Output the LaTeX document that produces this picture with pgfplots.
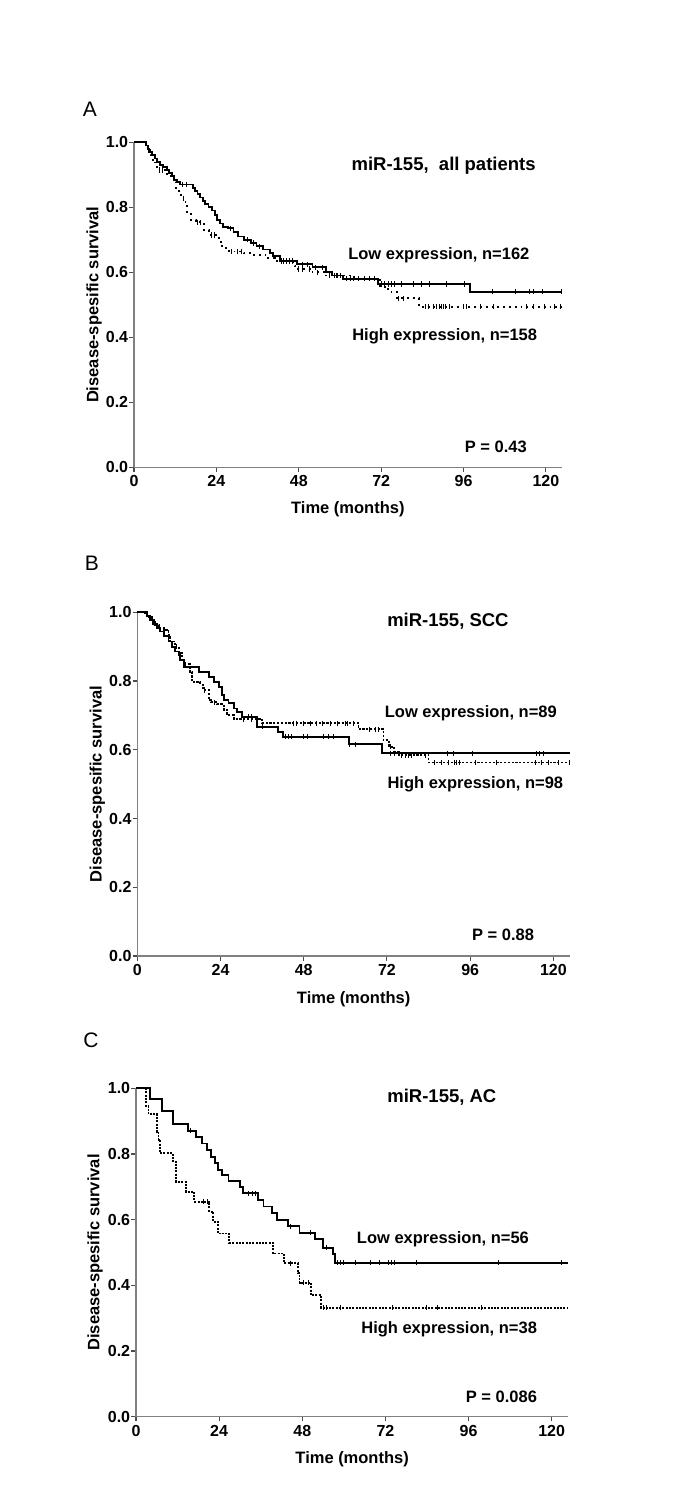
\documentclass[border=0pt]{standalone}
\usepackage{fontspec}
\setmainfont{Liberation Sans}
\usepackage{pgfplots}
\pgfplotsset{compat=1.18}

\pgfplotsset{
  km/.style={
    scale only axis, anchor=south west,
    axis x line=bottom, axis y line=left,
    axis line style={-, draw=gray, line width=1.4pt},
    every outer x axis line/.append style={-},
    every outer y axis line/.append style={-},
    xmin=0, ymin=0, ymax=1,
    xtick={0,24,48,72,96,120},
    ytick={0,0.2,0.4,0.6,0.8,1},
    yticklabel style={/pgf/number format/fixed, /pgf/number format/fixed zerofill, /pgf/number format/precision=1, inner xsep=1pt},
    tick align=outside,
    major tick length=4.7pt,
    tick style={draw=gray!60!black, line width=1.1pt},
    tick label style={font=\fontsize{16}{19}\selectfont\bfseries},
    /pgf/number format/assume math mode=true,
    label style={font=\fontsize{16.5}{19}\selectfont\bfseries},
    xlabel={Time (months)},
    ylabel={Disease-spesific survival},
    clip=false,
  },
  low/.style={black, line width=1.9pt, const plot, mark=none},
  cens/.style={only marks, mark=|, mark size=2.6pt, mark options={line width=0.9pt, black}},
}
\tikzset{
  ttl/.style={anchor=base, font=\fontsize{18.5}{22}\selectfont\bfseries},
  txt/.style={anchor=base, font=\fontsize{16.5}{19}\selectfont\bfseries},
  pan/.style={anchor=base, font=\fontsize{21}{24}\selectfont},
}

\begin{document}
\begin{tikzpicture}[x=1pt,y=1pt]
\path[use as bounding box] (0,0) rectangle (685,1505);

% ---------------- Panel A ----------------
\begin{axis}[km, at={(134pt,1037.7pt)}, width=427.7pt, height=325pt, xmax=124.6,
  xlabel style={at={(axis description cs:0.5,-0.1415)}, anchor=base},
  ylabel style={at={(axis description cs:-0.0835,0.5)}, anchor=base}]
\addplot[low] coordinates {
(0,1.0) (3.4,0.99) (4.0,0.98) (4.5,0.97) (5.3,0.96) (6.0,0.95) (6.8,0.94) (7.5,0.93)
(8.5,0.925) (9.5,0.915) (10.2,0.905) (11.0,0.895) (11.7,0.885) (12.5,0.877) (13.5,0.870)
(17.3,0.86) (17.9,0.85) (18.5,0.84) (19.3,0.83) (20.0,0.82) (20.8,0.81) (21.7,0.80)
(22.8,0.79) (23.5,0.775) (24.2,0.76) (25.0,0.75) (26.0,0.74) (27.5,0.735) (29.0,0.725)
(30.4,0.71) (32.0,0.70) (34.0,0.69) (35.7,0.68) (37.7,0.67) (39.6,0.66) (40.5,0.65)
(42.5,0.635) (47.4,0.625) (52.0,0.615) (56.0,0.60) (57.6,0.59) (61.0,0.58) (71.0,0.564)
(98.0,0.540) (124.6,0.540)};
\addplot[cens] coordinates {
(14.2,0.870) (15.2,0.870) (28.0,0.735) (33,0.70) (34.8,0.69) (36.5,0.68) (43.5,0.635)
(44.3,0.635) (45.2,0.635) (46.3,0.635) (49,0.625) (50.5,0.625) (53,0.615) (55,0.615)
(58.5,0.59) (59.3,0.59) (60.2,0.59) (62,0.58) (63,0.58) (64,0.58) (65.5,0.58) (67,0.58)
(68.5,0.58) (70,0.58) (72,0.564) (73.1,0.564) (74,0.564) (75.1,0.564) (76,0.564)
(78,0.564) (81.4,0.564) (83.8,0.564) (86.2,0.564) (91.1,0.564) (96.4,0.564)
(104.5,0.54) (111,0.54) (115.1,0.54) (116.3,0.54) (119,0.54) (124.6,0.54)};
\addplot[low, dash pattern=on 1.8pt off 4pt] coordinates {
(0,1.0) (3.5,0.99) (4.2,0.975) (4.8,0.96) (5.4,0.945) (6.2,0.925) (7.0,0.915) (9.7,0.90)
(10.7,0.89) (11.6,0.879) (12.2,0.858) (13.1,0.838) (14.0,0.828) (15.0,0.807) (15.5,0.782)
(16.5,0.761) (18.0,0.754) (20.4,0.73) (21.8,0.715) (24.8,0.694) (25.7,0.674) (27.7,0.664)
(32.0,0.658) (35.0,0.653) (38.3,0.643) (41.0,0.635) (46.4,0.62) (47.0,0.61) (52.0,0.60)
(56.0,0.59) (64.0,0.58) (70.7,0.575) (71.7,0.555) (74.0,0.54) (76.5,0.52) (83.0,0.494)
(124.6,0.494)};
\addplot[cens] coordinates {
(7.5,0.915) (8.3,0.915) (14.3,0.828) (18.5,0.754) (19.5,0.754) (22.5,0.715) (23.5,0.715)
(28.5,0.664) (30,0.664) (31.2,0.664) (43,0.635) (44.5,0.635) (47.8,0.61) (49,0.61)
(51,0.61) (53.5,0.60) (57,0.59) (59,0.59) (60,0.59) (77,0.52) (78.4,0.52)
(84.8,0.494) (85.7,0.494) (87.2,0.494) (88.2,0.494) (89.1,0.494) (89.6,0.494)
(90.1,0.494) (90.6,0.494) (92.0,0.494) (95.9,0.494) (96.9,0.494) (100.8,0.494)
(104.7,0.494) (114.4,0.494) (116.3,0.494) (119.7,0.494) (122.6,0.494) (124.1,0.494)};
\node[ttl] at (axis cs:90.2,0.913) {miR-155,\ \ all patients};
\node[txt] at (axis cs:88.8,0.638) {Low expression, n=162};
\node[txt] at (axis cs:90.5,0.390) {High expression, n=158};
\node[txt] at (axis cs:105.4,0.045) {P = 0.43};
\end{axis}

% ---------------- Panel B ----------------
\begin{axis}[km, at={(137.3pt,549pt)}, width=432.7pt, height=343.7pt, xmax=124.8,
  xlabel style={at={(axis description cs:0.5,-0.1376)}, anchor=base},
  ylabel style={at={(axis description cs:-0.0823,0.5)}, anchor=base}]
\addplot[low] coordinates {
(0,1.0) (2.8,0.989) (3.7,0.978) (4.6,0.966) (5.6,0.955) (6.6,0.944) (7.6,0.930)
(9.0,0.915) (10.0,0.900) (11.0,0.886) (11.9,0.876) (12.4,0.861) (13.4,0.842)
(17.7,0.827) (20.6,0.813) (22.0,0.798) (23.5,0.783) (24.4,0.759) (25.1,0.745)
(26.3,0.735) (27.8,0.720) (28.8,0.711) (30.2,0.696) (34.5,0.667) (40.5,0.653)
(42.0,0.638) (61.0,0.616) (70.5,0.590) (124.8,0.590)};
\addplot[cens] coordinates {
(32,0.696) (33,0.696) (36,0.667) (42.7,0.638) (43.5,0.638) (44.6,0.638) (48,0.638)
(49,0.638) (53.8,0.638) (55.2,0.638) (56.6,0.638) (61.3,0.616) (62.8,0.616)
(73.1,0.59) (74.3,0.59) (89.4,0.59) (91.1,0.59) (96.7,0.59) (115.2,0.59) (116.1,0.59)
(117.1,0.59)};
\addplot[low, dash pattern=on 2.2pt off 1.6pt] coordinates {
(0,1.0) (2.3,0.992) (3.3,0.985) (4.2,0.978) (5.2,0.963) (6.2,0.953) (7.6,0.949)
(9.0,0.934) (9.5,0.915) (11.0,0.900) (11.9,0.881) (12.9,0.856) (13.4,0.849)
(15.1,0.827) (15.8,0.796) (18.2,0.789) (19.0,0.774) (20.6,0.745) (21.3,0.738)
(23.0,0.733) (24.9,0.716) (25.9,0.700) (27.8,0.689) (36.0,0.677) (63.8,0.660)
(71.0,0.628) (72.6,0.609) (74.0,0.595) (75.5,0.585) (84.0,0.563) (124.8,0.563)};
\addplot[cens] coordinates {
(11.3,0.90) (13.9,0.849) (19.3,0.774) (22.3,0.738) (30.7,0.689) (33.0,0.689)
(45,0.677) (46,0.677) (48,0.677) (50,0.677) (51.8,0.677) (53.3,0.677) (55.7,0.677)
(57.6,0.677) (60,0.677) (60.5,0.677) (62.4,0.677) (67.1,0.66) (68.6,0.66) (69.5,0.66)
(73.0,0.609) (76.3,0.585) (77.2,0.585) (78.2,0.585) (79.2,0.585) (83.0,0.585)
(85.6,0.563) (87.8,0.563) (89.7,0.563) (91.6,0.563) (92.1,0.563) (92.9,0.563)
(97.4,0.563) (103.7,0.563) (114.7,0.563) (116.6,0.563) (118.5,0.563) (121.4,0.563)
(124.6,0.563)};
\node[ttl] at (axis cs:89.6,0.960) {miR-155, SCC};
\node[txt] at (axis cs:96.2,0.693) {Low expression, n=89};
\node[txt] at (axis cs:97.5,0.488) {High expression, n=98};
\node[txt] at (axis cs:105.5,0.0446) {P = 0.88};
\end{axis}

% ---------------- Panel C ----------------
\begin{axis}[km, at={(136pt,88.3pt)}, width=432.3pt, height=328.4pt, xmax=124.8,
  xlabel style={at={(axis description cs:0.5,-0.142)}, anchor=base},
  ylabel style={at={(axis description cs:-0.0849,0.5)}, anchor=base}]
\addplot[low] coordinates {
(0,1.0) (4.0,0.967) (7.4,0.93) (10.8,0.891) (15.1,0.871) (17.3,0.853) (19.0,0.832)
(20.4,0.812) (21.6,0.792) (22.8,0.772) (23.8,0.752) (24.7,0.735) (26.7,0.718)
(30.0,0.70) (31.0,0.68) (35.3,0.66) (36.8,0.64) (39.2,0.62) (40.6,0.60) (44.0,0.58)
(47.2,0.56) (51.7,0.54) (54.1,0.515) (56.8,0.495) (57.5,0.469) (124.8,0.469)};
\addplot[cens] coordinates {
(15.8,0.871) (32.5,0.68) (33.5,0.68) (34.5,0.68) (44.5,0.58) (50.4,0.56) (55.0,0.515)
(58.2,0.469) (58.9,0.469) (60.0,0.469) (63.3,0.469) (67.8,0.469) (70.4,0.469)
(72.8,0.469) (73.8,0.469) (74.6,0.469) (81.0,0.469) (104.7,0.469) (122.8,0.469)};
\addplot[low, dash pattern=on 2pt off 1.3pt] coordinates {
(0,1.0) (2.9,0.947) (3.6,0.921) (6.0,0.868) (6.5,0.842) (6.9,0.802) (10.6,0.777)
(11.6,0.716) (14.4,0.685) (16.8,0.655) (21.2,0.624) (22.3,0.594) (23.6,0.558)
(26.9,0.530) (39.5,0.497) (42.8,0.467) (46.7,0.437) (47.2,0.408) (50.5,0.370)
(53.4,0.332) (124.8,0.332)};
\addplot[cens] coordinates {
(19.5,0.655) (20.5,0.655) (44.5,0.467) (48.3,0.408) (49.8,0.408) (54.1,0.332)
(55.1,0.332) (58.9,0.332) (73.9,0.332) (83.8,0.332) (87.1,0.332) (99.8,0.332)};
\node[ttl] at (axis cs:88.3,0.957) {miR-155, AC};
\node[txt] at (axis cs:88.6,0.528) {Low expression, n=56};
\node[txt] at (axis cs:90.4,0.254) {High expression, n=38};
\node[txt] at (axis cs:105.5,0.0426) {P = 0.086};
\end{axis}

\node[pan] at (90,1388.3) {A};
\node[pan] at (92,934) {B};
\node[pan] at (91,457) {C};
\end{tikzpicture}
\end{document}
